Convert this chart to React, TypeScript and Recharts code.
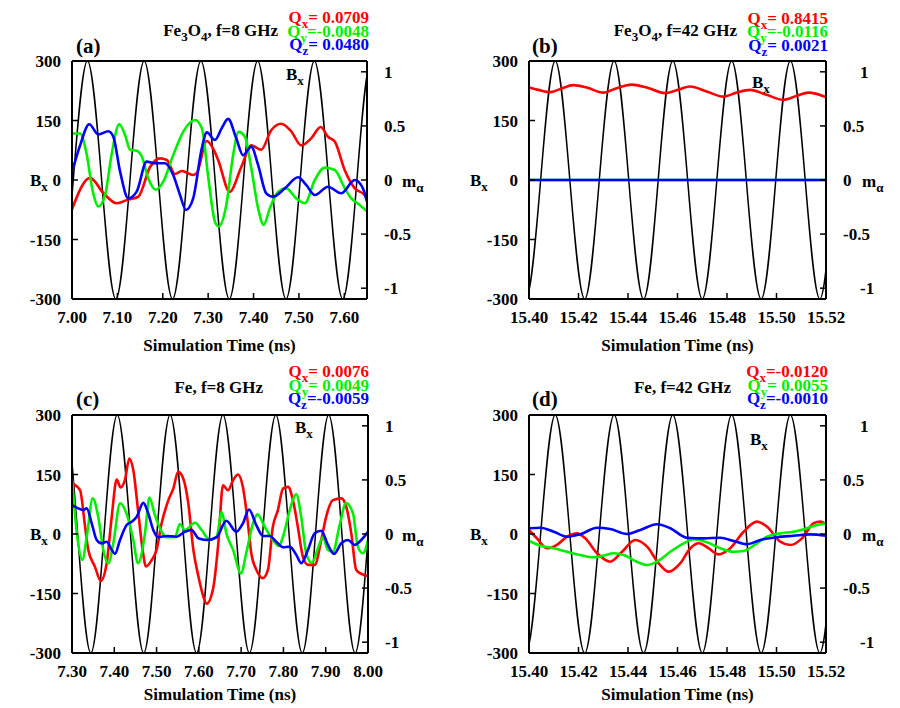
import React from "react";
import { LineChart, Line, XAxis, YAxis } from "recharts";

const FONT = '"Liberation Serif", "Times New Roman", serif';
const RED = "#ff0000";
const GREEN = "#00ee00";
const BLUE = "#0000ff";

type Pt = [number, number];

// Driving field B_x: extrema and zero crossings of each cycle
const fieldA: Pt[] = [
  [6.9403, 0], [6.9715, -300], [7.0028, 0], [7.034, 300], [7.0653, 0], [7.0965, -300],
  [7.1278, 0], [7.159, 300], [7.1903, 0], [7.2215, -300], [7.2528, 0], [7.284, 300],
  [7.3153, 0], [7.3465, -300], [7.3778, 0], [7.409, 300], [7.4403, 0], [7.4715, -300],
  [7.5028, 0], [7.534, 300], [7.5653, 0], [7.5965, -300], [7.6278, 0], [7.659, 300],
  [7.6903, 0],
];
const field42: Pt[] = [
  [15.3928, 0], [15.3987, -300], [15.4047, 0], [15.4106, 300], [15.4165, 0], [15.4225, -300],
  [15.4284, 0], [15.4344, 300], [15.4403, 0], [15.4463, -300], [15.4522, 0], [15.4581, 300],
  [15.4641, 0], [15.47, -300], [15.4759, 0], [15.4819, 300], [15.4878, 0], [15.4938, -300],
  [15.4997, 0], [15.5056, 300], [15.5116, 0], [15.5175, -300], [15.5234, 0],
];
const fieldC: Pt[] = [
  [7.2508, 0], [7.282, 300], [7.3133, 0], [7.3445, -300], [7.3758, 0], [7.407, 300],
  [7.4383, 0], [7.4695, -300], [7.5008, 0], [7.532, 300], [7.5633, 0], [7.5945, -300],
  [7.6258, 0], [7.657, 300], [7.6883, 0], [7.7195, -300], [7.7508, 0], [7.782, 300],
  [7.8133, 0], [7.8445, -300], [7.8758, 0], [7.907, 300], [7.9383, 0], [7.9695, -300],
  [8.0008, 0],
];

// Fe3O4, 8 GHz
const mxA: Pt[] = [
  [7.0, -0.27], [7.04, 0.02], [7.069, -0.12], [7.0985, -0.215], [7.124, -0.18], [7.146, -0.155],
  [7.172, 0.12], [7.194, 0.2], [7.209, 0.185], [7.227, 0.055], [7.242, 0.083], [7.267, 0.046],
  [7.275, 0.065], [7.297, 0.36], [7.311, 0.29], [7.322, 0.185], [7.3475, -0.11], [7.373, 0.12],
  [7.395, 0.32], [7.417, 0.28], [7.439, 0.46], [7.461, 0.52], [7.483, 0.45], [7.505, 0.32],
  [7.527, 0.385], [7.548, 0.49], [7.564, 0.4], [7.579, 0.355], [7.601, 0.09], [7.623, -0.077],
  [7.645, -0.14], [7.65, -0.17],
];
const myA: Pt[] = [
  [7.0, 0.43], [7.018, 0.43], [7.032, 0.245], [7.046, -0.11], [7.058, -0.245], [7.073, -0.14],
  [7.087, 0.23], [7.104, 0.515], [7.117, 0.415], [7.128, 0.28], [7.1425, 0.27], [7.154, 0.215],
  [7.168, 0.016], [7.185, -0.09], [7.201, -0.016], [7.223, 0.23], [7.245, 0.445], [7.271, 0.555],
  [7.286, 0.48], [7.3005, 0.016], [7.315, -0.385], [7.323, -0.43], [7.34, -0.23], [7.355, 0.23],
  [7.367, 0.445], [7.381, 0.4], [7.395, 0.11], [7.41, -0.26], [7.4225, -0.415], [7.436, -0.26],
  [7.454, -0.11], [7.472, -0.077], [7.494, -0.17], [7.513, -0.215], [7.535, 0], [7.557, 0.114],
  [7.579, 0.092], [7.601, -0.077], [7.6155, -0.17], [7.634, -0.23], [7.65, -0.29],
];
const mzA: Pt[] = [
  [7.0, 0.071], [7.018, 0.323], [7.038, 0.515], [7.058, 0.42], [7.08, 0.45], [7.091, 0.4],
  [7.106, 0.077], [7.124, -0.17], [7.1425, -0.108], [7.1645, 0.17], [7.183, 0.155], [7.205, 0.155],
  [7.223, 0.046], [7.238, -0.139], [7.251, -0.277], [7.267, -0.17], [7.286, 0.293], [7.297, 0.44],
  [7.315, 0.37], [7.33, 0.48], [7.344, 0.565], [7.362, 0.385], [7.377, 0.23], [7.395, 0.308],
  [7.41, 0.139], [7.428, -0.123], [7.443, -0.154], [7.469, -0.077], [7.498, 0.025], [7.516, -0.046],
  [7.535, -0.139], [7.564, -0.062], [7.593, -0.123], [7.623, 0], [7.641, -0.077], [7.65, -0.2],
];

// Fe3O4, 42 GHz
const mxB: Pt[] = [
  [15.4, 0.855], [15.4038, 0.833], [15.4085, 0.812], [15.4125, 0.84], [15.4179, 0.877],
  [15.4233, 0.855], [15.43, 0.808], [15.4354, 0.849], [15.4415, 0.882], [15.4476, 0.855],
  [15.455, 0.803], [15.461, 0.84], [15.465, 0.864], [15.4718, 0.818], [15.4785, 0.771],
  [15.4839, 0.808], [15.4893, 0.833], [15.496, 0.787], [15.5027, 0.741], [15.5082, 0.778],
  [15.5128, 0.808], [15.5162, 0.796], [15.52, 0.766],
];
const myB: Pt[] = [[15.4, 0], [15.52, 0]];
const mzB: Pt[] = [[15.4, 0], [15.52, 0]];

// Fe, 8 GHz
const mxC: Pt[] = [
  [7.3, 0.467], [7.319, 0.405], [7.331, 0.067], [7.3385, -0.147], [7.354, -0.3], [7.368, -0.433],
  [7.382, -0.27], [7.394, 0.16], [7.4057, 0.504], [7.415, 0.43], [7.425, 0.497], [7.4355, 0.697],
  [7.445, 0.59], [7.457, 0.19], [7.467, -0.147], [7.475, -0.3], [7.4885, -0.24], [7.5, -0.147],
  [7.512, 0.099], [7.528, 0.313], [7.5395, 0.42], [7.551, 0.574], [7.563, 0.513], [7.575, 0.283],
  [7.587, -0.147], [7.599, -0.393], [7.6105, -0.577], [7.6185, -0.645], [7.634, -0.5], [7.646, -0.086],
  [7.657, 0.451], [7.669, 0.405], [7.681, 0.497], [7.6925, 0.55], [7.704, 0.436], [7.716, 0.099],
  [7.724, -0.178], [7.736, -0.33], [7.7515, -0.408], [7.7635, -0.33], [7.775, 0.067], [7.787, 0.221],
  [7.799, 0.42], [7.811, 0.436], [7.8225, 0.313], [7.834, 0.067], [7.846, -0.209], [7.858, -0.285],
  [7.874, -0.285], [7.8895, -0.055], [7.901, 0.159], [7.917, 0.313], [7.937, 0.329], [7.9486, 0.251],
  [7.9605, 0.006], [7.972, -0.33], [7.984, -0.368], [8.0, -0.387],
];
const myC: Pt[] = [
  [7.3, 0.513], [7.3125, -0.025], [7.3244, -0.24], [7.336, 0.006], [7.349, 0.329], [7.362, 0.159],
  [7.374, -0.147], [7.386, -0.27], [7.3977, -0.086], [7.4135, 0.283], [7.429, 0.19], [7.445, -0.055],
  [7.456, -0.27], [7.4726, 0.006], [7.483, 0.338], [7.496, 0.175], [7.512, 0.021], [7.524, -0.03],
  [7.5435, -0.03], [7.555, 0.092], [7.567, 0.037], [7.591, 0.104], [7.6067, 0.037], [7.626, -0.055],
  [7.642, -0.025], [7.654, 0.203], [7.665, 0.006], [7.681, -0.147], [7.6996, -0.364], [7.712, -0.178],
  [7.728, 0.099], [7.7386, 0.181], [7.7557, 0.067], [7.775, -0.055], [7.789, -0.11], [7.799, -0.025],
  [7.815, 0.221], [7.8304, 0.368], [7.842, 0.159], [7.854, -0.178], [7.8675, -0.267], [7.8817, -0.132],
  [7.8935, -0.03], [7.9053, -0.147], [7.917, -0.163], [7.933, 0.083], [7.948, 0.285], [7.9645, 0.19],
  [7.976, -0.117], [7.988, -0.178], [8.0, -0.055],
];
const mzC: Pt[] = [
  [7.3, 0.267], [7.315, 0.237], [7.3267, 0.221], [7.3348, 0.237], [7.3466, 0.099], [7.3584, -0.055],
  [7.37, -0.086], [7.382, -0.071], [7.394, -0.147], [7.4017, -0.184], [7.4135, -0.055], [7.4293, 0.083],
  [7.4412, 0.113], [7.453, 0.159], [7.4686, 0.288], [7.4804, 0.19], [7.4922, 0.037], [7.504, -0.03],
  [7.524, -0.018], [7.5476, -0.025], [7.567, 0.021], [7.583, 0.037], [7.5987, -0.04], [7.6185, -0.055],
  [7.642, -0.03], [7.6649, 0.122], [7.6885, 0.021], [7.7043, 0.099], [7.7185, 0.227], [7.7358, 0.083],
  [7.7517, -0.018], [7.7675, -0.018], [7.7831, -0.071], [7.799, -0.122], [7.8148, -0.117], [7.8304, -0.193],
  [7.8422, -0.27], [7.858, -0.147], [7.8739, 0.006], [7.8895, 0.03], [7.9053, -0.101], [7.9195, -0.184],
  [7.9368, -0.086], [7.9526, -0.055], [7.9685, -0.101], [7.984, -0.055], [8.0, 0.021],
];

// Fe, 42 GHz
const mxD: Pt[] = [
  [15.4, 0.037], [15.4032, -0.04], [15.4073, -0.132], [15.4113, -0.1], [15.4154, -0.025],
  [15.4194, 0.006], [15.4227, -0.04], [15.4275, -0.178], [15.4328, -0.256], [15.4376, -0.164],
  [15.4429, -0.055], [15.4477, -0.117], [15.4524, -0.271], [15.4564, -0.348], [15.4611, -0.271],
  [15.4652, -0.132], [15.4686, -0.086], [15.4726, -0.132], [15.4766, -0.188], [15.4813, -0.132],
  [15.4867, 0.021], [15.4921, 0.114], [15.4962, 0.067], [15.5015, -0.071], [15.5056, -0.102],
  [15.5103, -0.04], [15.515, 0.099], [15.5177, 0.114], [15.52, 0.09],
];
const myD: Pt[] = [
  [15.4, -0.065], [15.4046, -0.108], [15.41, -0.132], [15.4154, -0.164], [15.4207, -0.194],
  [15.4261, -0.215], [15.4302, -0.2], [15.4342, -0.178], [15.4383, -0.194], [15.4436, -0.256],
  [15.4477, -0.287], [15.4517, -0.256], [15.4571, -0.164], [15.4625, -0.086], [15.4665, -0.049],
  [15.4719, -0.077], [15.4773, -0.132], [15.4827, -0.164], [15.4867, -0.157], [15.4921, -0.086],
  [15.4962, -0.025], [15.5015, 0.006], [15.5069, 0.021], [15.5123, 0.053], [15.5164, 0.083],
  [15.52, 0.099],
];
const mzD: Pt[] = [
  [15.4, 0.053], [15.4046, 0.058], [15.41, 0.021], [15.4154, -0.025], [15.4207, -0.003],
  [15.4275, 0.058], [15.4328, 0.046], [15.4396, 0], [15.445, 0.037], [15.4517, 0.09],
  [15.4571, 0.053], [15.4638, -0.034], [15.4706, -0.04], [15.4773, -0.034], [15.4827, -0.065],
  [15.4881, -0.095], [15.4935, -0.055], [15.5002, -0.03], [15.5069, -0.016], [15.5137, -0.003],
  [15.52, -0.016],
];

// Q values printed above each panel (x, y, z)
const qA = [0.0709, -0.0048, 0.048];
const qB = [0.8415, -0.0116, 0.0021];
const qC = [0.0076, 0.0049, -0.0059];
const qD = [-0.012, 0.0055, -0.001];

const timeTicksA = [7.0, 7.1, 7.2, 7.3, 7.4, 7.5, 7.6];
const timeTicks42 = [15.4, 15.42, 15.44, 15.46, 15.48, 15.5, 15.52];
const timeTicksC = [7.3, 7.4, 7.5, 7.6, 7.7, 7.8, 7.9, 8.0];
const fieldTicks = [-300, -150, 0, 150, 300];
const momentTicks = [-1, -0.5, 0, 0.5, 1];

const AXW = 60;
const TOP = 10;
const XH = 40;

const rows = (pts: Pt[]) => pts.map(([t, v]) => ({ t, v }));

const tickFont = { fontSize: 17, fontWeight: "bold", fontFamily: FONT, fill: "#000" };
const frame = { stroke: "#000", strokeWidth: 2 };
const tickLn = { stroke: "#000", strokeWidth: 1.5 };

interface PanelProps {
  left: number;
  top: number;
  w: number;
  h: number;
  domain: [number, number];
  ticks: number[];
  field: Pt[];
  mx: Pt[];
  my: Pt[];
  mz: Pt[];
  shiftOnes: number;
}

const Panel: React.FC<PanelProps> = ({ left, top, w, h, domain, ticks, field, mx, my, mz, shiftOnes }) => {
  const momentTick = (p: any) => {
    const v = p.payload.value;
    const dx = Math.abs(v) === 1 ? shiftOnes : 0;
    return (
      <text x={p.x + dx} y={p.y} dy="0.35em" textAnchor="start" {...tickFont}>
        {v}
      </text>
    );
  };
  const series: [Pt[], string][] = [
    [mx, RED],
    [my, GREEN],
    [mz, BLUE],
  ];
  return (
    <div style={{ position: "absolute", left: left - AXW, top: top - TOP - 1 }}>
      <LineChart width={w + 2 * AXW} height={h + TOP + 1 + XH} margin={{ top: TOP, right: 0, bottom: 0, left: 0 }}>
        <XAxis
          xAxisId="bottom"
          type="number"
          dataKey="t"
          domain={domain}
          ticks={ticks}
          interval={0}
          allowDataOverflow
          height={XH}
          tickFormatter={(v: number) => v.toFixed(2)}
          tickSize={-6}
          tickMargin={18}
          axisLine={frame}
          tickLine={tickLn}
          tick={tickFont}
        />
        <XAxis
          xAxisId="top"
          orientation="top"
          type="number"
          dataKey="t"
          domain={domain}
          ticks={ticks}
          interval={0}
          allowDataOverflow
          height={1}
          tickSize={-6}
          axisLine={frame}
          tickLine={tickLn}
          tick={false}
        />
        <YAxis
          yAxisId="B"
          type="number"
          domain={[-300, 300]}
          ticks={fieldTicks}
          interval={0}
          allowDataOverflow
          width={AXW}
          tickSize={-6}
          tickMargin={17}
          axisLine={frame}
          tickLine={tickLn}
          tick={tickFont}
        />
        <YAxis
          yAxisId="m"
          orientation="right"
          type="number"
          domain={[-1.1, 1.1]}
          ticks={momentTicks}
          interval={0}
          allowDataOverflow
          width={AXW}
          tickSize={-6}
          tickMargin={23}
          axisLine={frame}
          tickLine={tickLn}
          tick={momentTick}
        />
        <Line
          xAxisId="bottom"
          yAxisId="B"
          data={rows(field)}
          dataKey="v"
          type="natural"
          stroke="#000"
          strokeWidth={1.5}
          dot={false}
          isAnimationActive={false}
        />
        {series.map(([pts, color], i) => (
          <Line
            key={i}
            xAxisId="bottom"
            yAxisId="m"
            data={rows(pts)}
            dataKey="v"
            type="monotone"
            stroke={color}
            strokeWidth={2.6}
            dot={false}
            isAnimationActive={false}
          />
        ))}
      </LineChart>
    </div>
  );
};

// text with subscripts: parts alternate normal / subscript
const SubText: React.FC<{
  x: number;
  y: number;
  parts: string[];
  anchor?: "start" | "middle" | "end";
  fill?: string;
  size?: number;
}> = ({ x, y, parts, anchor = "start", fill = "#000", size = 17 }) => (
  <text
    x={x}
    y={y}
    textAnchor={anchor}
    fill={fill}
    fontSize={size}
    fontWeight="bold"
    fontFamily={FONT}
    style={{ whiteSpace: "pre" }}
  >
    {parts.map((s, i) =>
      i % 2 === 1 ? (
        <tspan key={i} dy={5} fontSize={13}>
          {s}
        </tspan>
      ) : (
        <tspan key={i} dy={i === 0 ? 0 : -5}>
          {s}
        </tspan>
      )
    )}
  </text>
);

const qText = (v: number) => `=${v < 0 ? "" : " "}${v.toFixed(4)}`;

interface Annot {
  letter: [number, number];
  title: string[];
  titleAt: [number, number];
  q: number[];
  qX: number;
  qY: number[];
  innerB: [number, number];
  leftB: [number, number];
  rightM: [number, number];
  xLabel: [number, number];
}

const annots: [string, Annot][] = [
  ["(a)", {
    letter: [76, 53], title: ["Fe", "3", "O", "4", ", f=8 GHz"], titleAt: [278, 36],
    q: qA, qX: 369, qY: [23, 37, 50], innerB: [286, 80], leftB: [30, 186], rightM: [402, 187], xLabel: [219.5, 351],
  }],
  ["(b)", {
    letter: [532, 53], title: ["Fe", "3", "O", "4", ", f=42 GHz"], titleAt: [737, 36],
    q: qB, qX: 828, qY: [24, 37, 51], innerB: [752, 88], leftB: [470, 186], rightM: [862, 187], xLabel: [677.5, 351],
  }],
  ["(c)", {
    letter: [76, 406], title: ["Fe, f=8 GHz"], titleAt: [263, 393],
    q: qC, qX: 369, qY: [377, 391, 404], innerB: [295, 433], leftB: [30, 540], rightM: [402, 541], xLabel: [220, 700],
  }],
  ["(d)", {
    letter: [532, 406], title: ["Fe, f=42 GHz"], titleAt: [731, 393],
    q: qD, qX: 828, qY: [377, 391, 404], innerB: [750, 445], leftB: [470, 540], rightM: [862, 541], xLabel: [677.5, 700],
  }],
];

const qColors = [RED, GREEN, BLUE];
const qAxes = ["x", "y", "z"];

export default function App() {
  return (
    <div style={{ position: "absolute", left: 0, top: 0, width: 900, height: 708, background: "#fff" }}>
      <Panel left={72} top={61} w={295} h={238} domain={[7.0, 7.65]} ticks={timeTicksA}
        field={fieldA} mx={mxA} my={myA} mz={mzA} shiftOnes={0} />
      <Panel left={529} top={61} w={297} h={238} domain={[15.4, 15.52]} ticks={timeTicks42}
        field={field42} mx={mxB} my={myB} mz={mzB} shiftOnes={17} />
      <Panel left={72} top={415} w={296} h={238} domain={[7.3, 8.0]} ticks={timeTicksC}
        field={fieldC} mx={mxC} my={myC} mz={mzC} shiftOnes={0} />
      <Panel left={529} top={415} w={297} h={238} domain={[15.4, 15.52]} ticks={timeTicks42}
        field={field42} mx={mxD} my={myD} mz={mzD} shiftOnes={17} />
      <svg width={900} height={708} style={{ position: "absolute", left: 0, top: 0, pointerEvents: "none" }}>
        {annots.map(([letter, a]) => (
          <g key={letter}>
            <text x={a.letter[0]} y={a.letter[1]} fontSize={21} fontWeight="bold" fontFamily={FONT} fill="#000">
              {letter}
            </text>
            <SubText x={a.titleAt[0]} y={a.titleAt[1]} parts={a.title} anchor="end" />
            {a.q.map((v, i) => (
              <SubText key={i} x={a.qX} y={a.qY[i]} parts={["Q", qAxes[i], qText(v)]} anchor="end" fill={qColors[i]} />
            ))}
            <SubText x={a.innerB[0]} y={a.innerB[1]} parts={["B", "x"]} />
            <SubText x={a.leftB[0]} y={a.leftB[1]} parts={["B", "x"]} />
            <SubText x={a.rightM[0]} y={a.rightM[1]} parts={["m", "α"]} />
            <text x={a.xLabel[0]} y={a.xLabel[1]} textAnchor="middle" fontSize={17} fontWeight="bold" fontFamily={FONT} fill="#000">
              Simulation Time (ns)
            </text>
          </g>
        ))}
      </svg>
    </div>
  );
}
